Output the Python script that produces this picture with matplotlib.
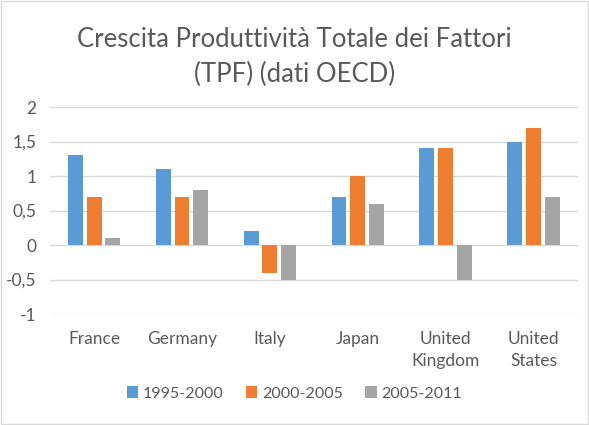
import numpy as np
import matplotlib.pyplot as plt
from matplotlib.patches import Rectangle

# ======================================
# DATA
# ======================================

countries = ["France", "Germany", "Italy", "Japan", "United\nKingdom", "United\nStates"]
periods = ["1995-2000", "2000-2005", "2005-2011"]
tpf_1995_2000 = [1.3, 1.1, 0.2, 0.7, 1.4, 1.5]
tpf_2000_2005 = [0.7, 0.7, -0.4, 1.0, 1.4, 1.7]
tpf_2005_2011 = [0.1, 0.8, -0.5, 0.6, -0.5, 0.7]

colors = ["#5B9BD5", "#ED7D31", "#A5A5A5"]
text_color = "#595959"

plt.rcParams["font.family"] = ["Lato", "DejaVu Sans"]

# ======================================
# CHART
# ======================================

fig = plt.figure(figsize=(5.89, 4.25), dpi=100)
ax = fig.add_axes([0.085, 0.261, 0.896, 0.487])

x = np.arange(len(countries))
width = 0.17
step = 0.215

for i, (vals, label) in enumerate(zip([tpf_1995_2000, tpf_2000_2005, tpf_2005_2011], periods)):
    ax.bar(x + (i - 1) * step, vals, width, color=colors[i], label=label, zorder=3)

ax.set_xlim(-0.5, len(countries) - 0.5)
ax.set_ylim(-1, 2)
ax.set_yticks([-1, -0.5, 0, 0.5, 1, 1.5, 2])
ax.set_yticklabels(["-1", "-0,5", "0", "0,5", "1", "1,5", "2"])
ax.set_xticks(x)
ax.set_xticklabels(countries, linespacing=1.45)
ax.tick_params(axis="both", length=0, colors=text_color, labelsize=12.5)
ax.tick_params(axis="x", pad=12)
ax.tick_params(axis="y", pad=10)

ax.grid(axis="y", color="#D9D9D9", linewidth=1, zorder=0)
for side in ["top", "right", "left", "bottom"]:
    ax.spines[side].set_visible(False)

fig.text(0.5, 0.866, "Crescita Produttività Totale dei Fattori\n(TPF) (dati OECD)",
         ha="center", va="center", fontsize=18.5, color=text_color, linespacing=1.5)

fig.legend(loc="center", bbox_to_anchor=(0.5, 0.074), ncol=3, frameon=False,
           fontsize=11.5, labelcolor=text_color, handlelength=0.7, handleheight=0.7,
           handletextpad=0.3, columnspacing=1.4)

fig.patches.append(Rectangle((0.002, 0.002), 0.996, 0.996, transform=fig.transFigure,
                             fill=False, edgecolor="#D9D9D9", linewidth=1))

plt.savefig("out.png", dpi=100)
